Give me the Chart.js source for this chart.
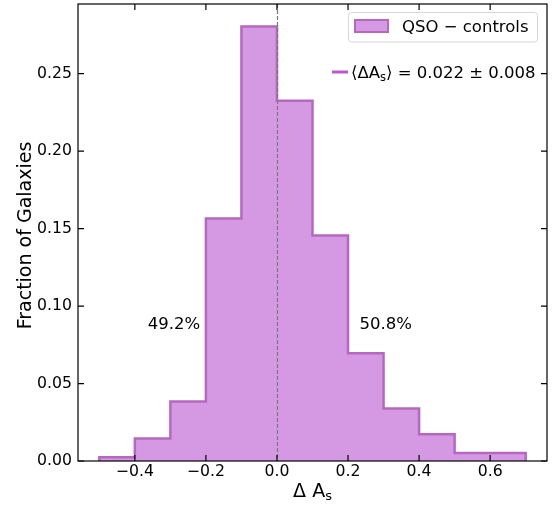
<!DOCTYPE html>
<html>
<head>
<meta charset="utf-8">
<script src="https://cdn.jsdelivr.net/npm/chart.js@4/dist/chart.umd.min.js"></script>
<style>
  html, body { margin: 0; padding: 0; background: #fff; }
  canvas { display: block; }
</style>
</head>
<body>
<canvas id="hist" width="557" height="508"></canvas>
<script>
// Histogram of Delta A_s (QSO - controls)
const binEdges  = [-0.5, -0.4, -0.3, -0.2, -0.1, 0.0, 0.1, 0.2, 0.3, 0.4, 0.5, 0.6, 0.7];
const fractions = [0.0025, 0.0145, 0.0384, 0.1566, 0.2804, 0.2325, 0.1455, 0.0696, 0.0339, 0.0172, 0.0052, 0.0052];
const xTicks = [-0.4, -0.2, 0.0, 0.2, 0.4, 0.6];
const yTicks = [0.00, 0.05, 0.10, 0.15, 0.20, 0.25];
const seriesLabel = 'QSO \u2212 controls';
const meanLabel = ['\u27E8\u0394A', 's', '\u27E9 = 0.022 \u00B1 0.008'];
const leftPct = '49.2%';
const rightPct = '50.8%';

const FILL  = '#d599e4';
const EDGE  = '#b668c0';
const MEAN  = '#ba55d3';
const FONT  = "'DejaVu Sans', sans-serif";

// step outline: start at baseline, one point per left edge, close at the right edge
const stepPoints = [{ x: binEdges[0], y: 0 }];
fractions.forEach((f, i) => stepPoints.push({ x: binEdges[i], y: f }));
stepPoints.push({ x: binEdges[binEdges.length - 1], y: 0 });

const fmt = v => v.toFixed(1).replace('-', '\u2212');

const decor = {
  id: 'decor',
  afterDatasetsDraw(chart) {
    const { ctx, chartArea: a, scales: { x } } = chart;
    const x0 = Math.round(x.getPixelForValue(0)) + 0.5;
    ctx.save();
    ctx.strokeStyle = '#7a7a7a';
    ctx.lineWidth = 1.2;
    ctx.setLineDash([4, 2]);
    ctx.beginPath();
    ctx.moveTo(x0, a.top);
    ctx.lineTo(x0, a.bottom);
    ctx.stroke();
    ctx.restore();
  },
  afterDraw(chart) {
    const { ctx, chartArea: a, scales: { x, y } } = chart;
    ctx.save();
    // frame
    ctx.strokeStyle = '#000';
    ctx.lineWidth = 1.2;
    ctx.strokeRect(a.left, a.top, a.right - a.left, a.bottom - a.top);
    // inward ticks on all four sides
    ctx.beginPath();
    xTicks.forEach(v => {
      const px = x.getPixelForValue(v);
      ctx.moveTo(px, a.bottom); ctx.lineTo(px, a.bottom - 6);
      ctx.moveTo(px, a.top);    ctx.lineTo(px, a.top + 6);
    });
    yTicks.forEach(v => {
      const py = y.getPixelForValue(v);
      ctx.moveTo(a.left, py);  ctx.lineTo(a.left + 6, py);
      ctx.moveTo(a.right, py); ctx.lineTo(a.right - 6, py);
    });
    ctx.stroke();

    // axis titles
    ctx.fillStyle = '#000';
    ctx.textBaseline = 'alphabetic';
    ctx.font = '19px ' + FONT;
    ctx.save();
    ctx.translate(30.5, 235.5);
    ctx.rotate(-Math.PI / 2);
    ctx.textAlign = 'center';
    ctx.fillText('Fraction of Galaxies', 0, 0);
    ctx.restore();

    ctx.textAlign = 'left';
    const xlMain = '\u0394 A';
    const wMain = ctx.measureText(xlMain).width;
    ctx.font = '13px ' + FONT;
    const wSub = ctx.measureText('s').width;
    const xl0 = (a.left + a.right) / 2 - (wMain + wSub) / 2;
    ctx.font = '19px ' + FONT;
    ctx.fillText(xlMain, xl0, 497);
    ctx.font = '13px ' + FONT;
    ctx.fillText('s', xl0 + wMain, 500);

    // percentages
    ctx.font = '16.5px ' + FONT;
    ctx.textAlign = 'center';
    ctx.fillText(leftPct, x.getPixelForValue(-0.29), y.getPixelForValue(0.085));
    ctx.fillText(rightPct, x.getPixelForValue(0.306), y.getPixelForValue(0.085));

    // legend box
    ctx.textAlign = 'left';
    ctx.fillStyle = 'rgba(255,255,255,0.8)';
    ctx.strokeStyle = '#d6d6d6';
    ctx.lineWidth = 1;
    ctx.beginPath();
    ctx.roundRect(348.5, 12.5, 189, 29.5, 3);
    ctx.fill();
    ctx.stroke();
    ctx.fillStyle = FILL;
    ctx.strokeStyle = EDGE;
    ctx.lineWidth = 2;
    ctx.fillRect(355, 20, 33, 12);
    ctx.strokeRect(355, 20, 33, 12);
    ctx.fillStyle = '#000';
    ctx.font = '16.5px ' + FONT;
    ctx.fillText(seriesLabel, 402, 31.5);

    // mean entry (no frame)
    ctx.strokeStyle = MEAN;
    ctx.lineWidth = 3;
    ctx.beginPath();
    ctx.moveTo(332, 72); ctx.lineTo(348, 72);
    ctx.stroke();
    let tx = 351;
    ctx.font = '16.5px ' + FONT;
    ctx.fillText(meanLabel[0], tx, 77.5);
    tx += ctx.measureText(meanLabel[0]).width;
    ctx.font = '11.5px ' + FONT;
    ctx.fillText(meanLabel[1], tx, 80.5);
    tx += ctx.measureText(meanLabel[1]).width;
    ctx.font = '16.5px ' + FONT;
    ctx.fillText(meanLabel[2], tx, 77.5);
    ctx.restore();
  }
};

new Chart(document.getElementById('hist'), {
  type: 'line',
  data: {
    datasets: [{
      label: seriesLabel,
      data: stepPoints,
      stepped: true,
      fill: 'origin',
      backgroundColor: FILL,
      borderColor: EDGE,
      borderWidth: 2.5,
      pointRadius: 0,
      pointHoverRadius: 0,
    }],
  },
  options: {
    responsive: false,
    animation: false,
    devicePixelRatio: 1,
    layout: { padding: { top: 4, right: 10, left: 0, bottom: 0 } },
    plugins: {
      legend: { display: false },
      tooltip: { enabled: false },
    },
    scales: {
      x: {
        type: 'linear',
        min: -0.56,
        max: 0.76,
        afterBuildTicks: s => { s.ticks = xTicks.map(v => ({ value: v })); },
        afterFit: s => { s.height = 47; s.paddingLeft = 0; s.paddingRight = 0; },
        grid: { display: false, drawTicks: false },
        border: { display: false },
        ticks: {
          padding: 2,
          color: '#000',
          maxRotation: 0,
          font: { family: FONT, size: 15.7 },
          callback: v => fmt(v),
        },
      },
      y: {
        type: 'linear',
        min: 0,
        max: 0.295,
        afterBuildTicks: s => { s.ticks = yTicks.map(v => ({ value: v })); },
        afterFit: s => { s.width = 78; s.paddingTop = 0; s.paddingBottom = 0; },
        grid: { display: false, drawTicks: false },
        border: { display: false },
        ticks: {
          padding: 6,
          color: '#000',
          font: { family: FONT, size: 15.7 },
          callback: v => v.toFixed(2),
        },
      },
    },
  },
  plugins: [decor],
});
</script>
</body>
</html>
